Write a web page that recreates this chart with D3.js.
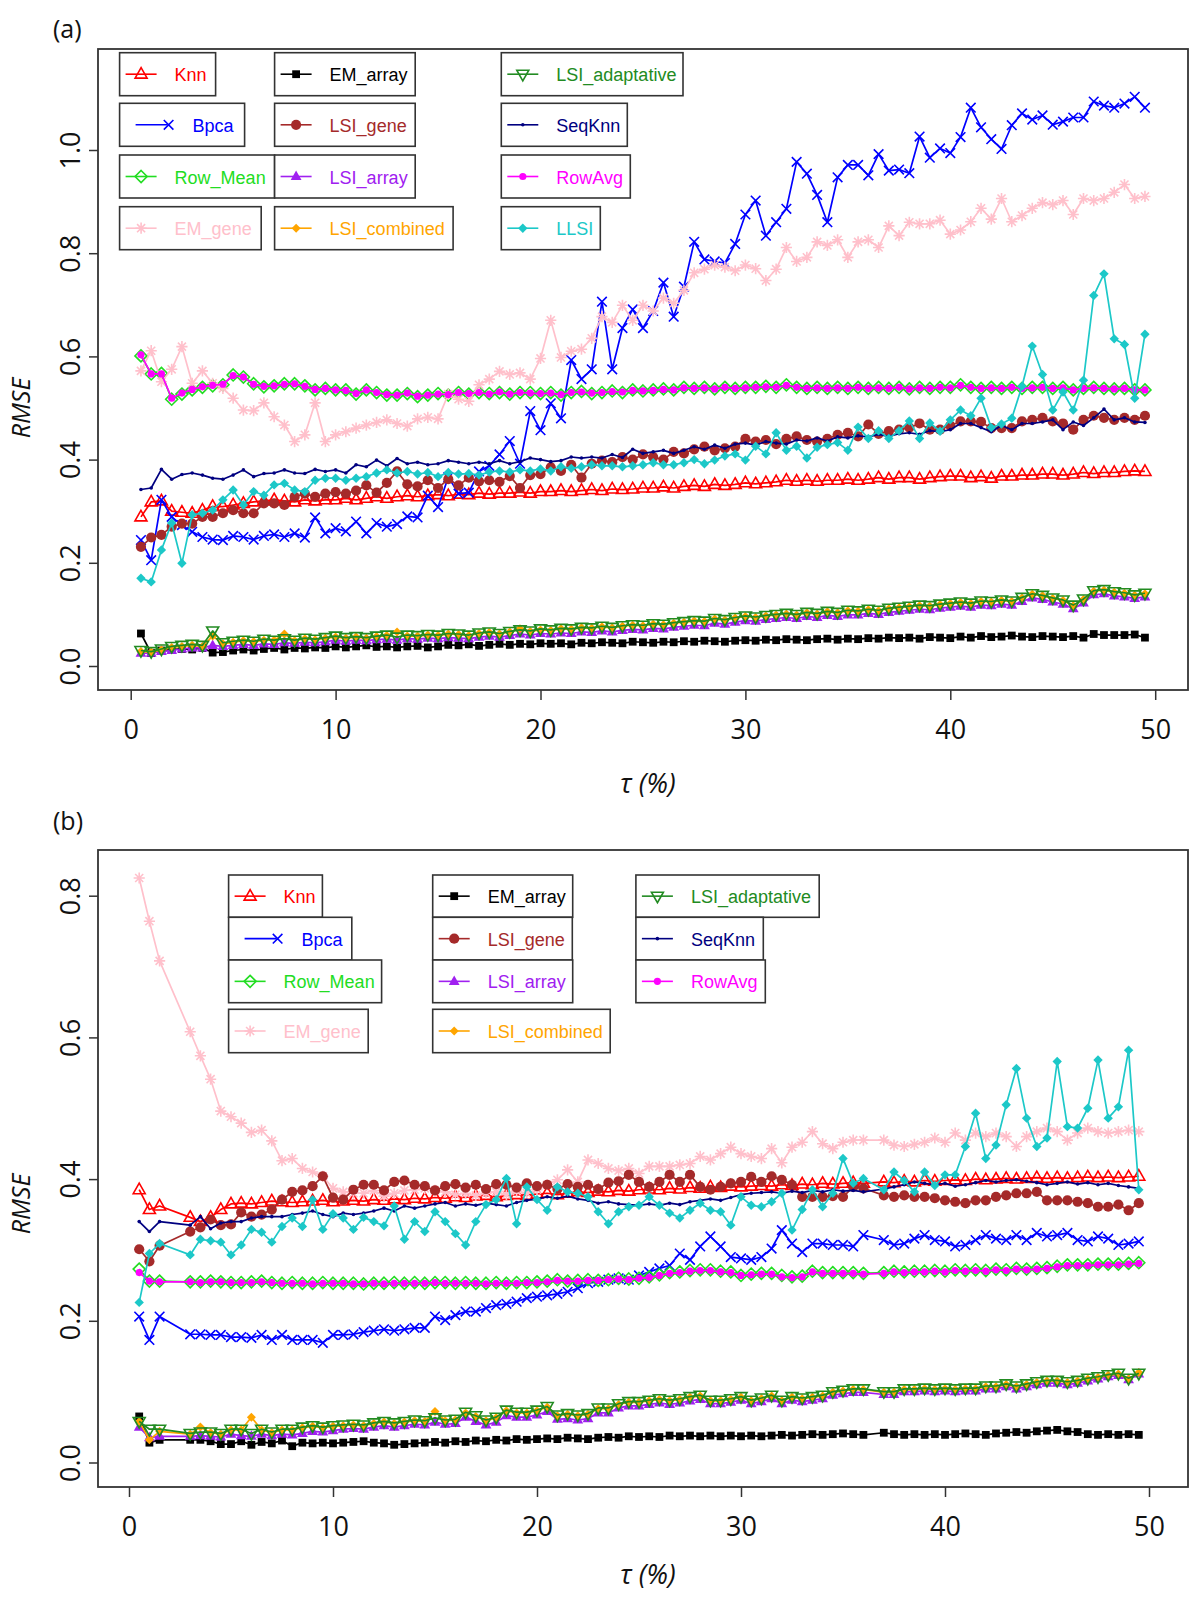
<!DOCTYPE html>
<html><head><meta charset="utf-8">
<script src="https://cdn.jsdelivr.net/npm/d3@7"></script>
<style>body{margin:0;background:#fff} svg{display:block}</style>
</head><body>
<svg id="c" width="1200" height="1602"></svg>
<script>
// ---------- categories (tau %) ----------
const xA = [0.5,1,1.5,2,2.5,3,3.5,4,4.5,5,
5.5,6,6.5,7,7.5,8,8.5,9,9.5,10,
10.5,11,11.5,12,12.5,13,13.5,14,14.5,15,
15.5,16,16.5,17,17.5,18,18.5,19,19.5,20,
20.5,21,21.5,22,22.5,23,23.5,24,24.5,25,
25.5,26,26.5,27,27.5,28,28.5,29,29.5,30,
30.5,31,31.5,32,32.5,33,33.5,34,34.5,35,
35.5,36,36.5,37,37.5,38,38.5,39,39.5,40,
40.5,41,41.5,42,42.5,43,43.5,44,44.5,45,
45.5,46,46.5,47,47.5,48,48.5,49,49.5];
const xB = [0.5,1,1.5,
3,3.5,4,4.5,5,
5.5,6,6.5,7,7.5,8,8.5,9,9.5,10,
10.5,11,11.5,12,12.5,13,13.5,14,14.5,15,
15.5,16,16.5,17,17.5,18,18.5,19,19.5,20,
20.5,21,21.5,22,22.5,23,23.5,24,24.5,25,
25.5,26,26.5,27,27.5,28,28.5,29,29.5,30,
30.5,31,31.5,32,32.5,33,33.5,34,34.5,35,
35.5,36,
37,37.5,38,38.5,39,39.5,40,
40.5,41,41.5,42,42.5,43,43.5,44,44.5,45,
45.5,46,46.5,47,47.5,48,48.5,49,49.5];

const xTicks = [0,10,20,30,40,50];
const yTicksA = [0,0.2,0.4,0.6,0.8,1.0];
const yTicksB = [0,0.2,0.4,0.6,0.8];
const seriesNames = ["Knn","Bpca","Row_Mean","EM_gene","EM_array","LSI_gene","LSI_array","LSI_combined","LSI_adaptative","SeqKnn","RowAvg","LLSI"];

// ---------- panel (a) series ----------
const a_knn = [0.289,0.318,0.320,0.300,0.298,0.296,0.302,0.309,0.309,0.312,
0.315,0.318,0.320,0.322,0.320,0.318,0.322,0.320,0.322,0.322,
0.325,0.322,0.325,0.328,0.325,0.328,0.330,0.328,0.330,0.332,
0.330,0.333,0.332,0.335,0.333,0.335,0.335,0.337,0.335,0.338,
0.338,0.340,0.338,0.340,0.342,0.340,0.343,0.342,0.343,0.345,
0.345,0.347,0.345,0.348,0.350,0.348,0.352,0.350,0.352,0.355,
0.353,0.355,0.357,0.360,0.358,0.360,0.358,0.360,0.360,0.362,
0.360,0.362,0.365,0.362,0.365,0.365,0.362,0.365,0.367,0.368,
0.368,0.365,0.367,0.364,0.368,0.368,0.370,0.370,0.372,0.372,
0.370,0.372,0.375,0.373,0.375,0.375,0.377,0.378,0.377];
const a_bpca = [0.244,0.205,0.322,0.289,0.273,0.260,0.250,0.245,0.244,0.252,
0.250,0.245,0.252,0.255,0.250,0.257,0.249,0.288,0.257,0.267,
0.261,0.280,0.257,0.277,0.270,0.275,0.290,0.288,0.330,0.308,
0.366,0.334,0.336,0.377,0.388,0.410,0.436,0.392,0.494,0.457,
0.509,0.480,0.593,0.556,0.575,0.706,0.575,0.655,0.691,0.655,
0.688,0.743,0.677,0.735,0.822,0.788,0.784,0.781,0.818,0.875,
0.902,0.834,0.860,0.886,0.977,0.954,0.913,0.860,0.947,0.971,
0.971,0.951,0.992,0.960,0.962,0.955,1.026,0.985,1.003,0.994,
1.025,1.082,1.044,1.021,1.002,1.048,1.071,1.059,1.067,1.049,
1.055,1.063,1.063,1.094,1.086,1.082,1.090,1.103,1.082];
const a_rowmean = [0.601,0.566,0.567,0.517,0.527,0.535,0.540,0.543,0.545,0.564,
0.560,0.547,0.541,0.543,0.547,0.547,0.543,0.535,0.538,0.535,
0.535,0.527,0.535,0.530,0.525,0.525,0.528,0.522,0.525,0.528,
0.525,0.530,0.527,0.530,0.528,0.530,0.527,0.530,0.530,0.528,
0.530,0.525,0.530,0.532,0.528,0.530,0.533,0.530,0.535,0.533,
0.535,0.537,0.535,0.540,0.538,0.540,0.537,0.540,0.538,0.540,
0.540,0.542,0.540,0.545,0.540,0.538,0.540,0.538,0.540,0.538,
0.540,0.538,0.540,0.538,0.540,0.537,0.540,0.538,0.540,0.540,
0.545,0.540,0.538,0.540,0.538,0.540,0.538,0.540,0.540,0.538,
0.540,0.535,0.538,0.540,0.538,0.537,0.538,0.535,0.535];
const a_emgene = [0.572,0.611,0.551,0.575,0.619,0.548,0.572,0.548,0.538,0.519,
0.496,0.495,0.510,0.483,0.467,0.435,0.448,0.510,0.435,0.448,
0.454,0.461,0.467,0.472,0.477,0.470,0.465,0.479,0.482,0.479,
0.527,0.517,0.513,0.545,0.556,0.571,0.565,0.568,0.556,0.596,
0.670,0.598,0.610,0.614,0.635,0.677,0.666,0.699,0.670,0.699,
0.688,0.713,0.703,0.728,0.762,0.769,0.777,0.773,0.766,0.777,
0.770,0.747,0.769,0.811,0.784,0.792,0.822,0.815,0.826,0.792,
0.822,0.826,0.811,0.853,0.834,0.860,0.857,0.857,0.864,0.837,
0.845,0.861,0.887,0.866,0.906,0.861,0.873,0.887,0.898,0.894,
0.902,0.875,0.906,0.902,0.906,0.918,0.933,0.906,0.910];
const a_emarray = [0.063,0.025,0.030,0.032,0.033,0.032,0.035,0.026,0.027,0.030,
0.032,0.030,0.033,0.035,0.032,0.035,0.034,0.036,0.035,0.038,
0.036,0.038,0.040,0.037,0.038,0.036,0.038,0.039,0.036,0.038,
0.041,0.040,0.042,0.039,0.041,0.043,0.041,0.043,0.042,0.044,
0.043,0.044,0.042,0.045,0.044,0.046,0.045,0.044,0.047,0.046,
0.045,0.047,0.046,0.048,0.047,0.049,0.048,0.047,0.049,0.050,
0.049,0.051,0.050,0.052,0.051,0.050,0.052,0.053,0.051,0.053,
0.052,0.054,0.053,0.055,0.054,0.055,0.053,0.056,0.055,0.054,
0.057,0.055,0.058,0.056,0.057,0.059,0.057,0.056,0.058,0.057,
0.056,0.058,0.055,0.062,0.060,0.060,0.060,0.061,0.055];
const a_lsigene = [0.231,0.249,0.254,0.270,0.276,0.276,0.289,0.289,0.296,0.302,
0.296,0.296,0.315,0.315,0.312,0.328,0.334,0.328,0.334,0.337,
0.334,0.340,0.350,0.336,0.355,0.377,0.352,0.348,0.360,0.345,
0.362,0.350,0.365,0.358,0.360,0.357,0.368,0.345,0.370,0.372,
0.385,0.378,0.390,0.365,0.392,0.398,0.395,0.405,0.400,0.410,
0.405,0.400,0.415,0.412,0.420,0.425,0.418,0.422,0.425,0.440,
0.435,0.438,0.430,0.440,0.445,0.438,0.435,0.440,0.448,0.452,
0.445,0.468,0.450,0.455,0.458,0.462,0.470,0.458,0.458,0.466,
0.474,0.474,0.473,0.461,0.461,0.461,0.474,0.477,0.481,0.474,
0.470,0.458,0.477,0.485,0.481,0.477,0.481,0.477,0.485];
const a_lsiarray = [0.025,0.025,0.028,0.030,0.033,0.035,0.035,0.040,0.038,0.040,
0.042,0.040,0.043,0.042,0.045,0.044,0.046,0.045,0.047,0.050,
0.048,0.050,0.049,0.051,0.052,0.050,0.053,0.052,0.054,0.053,
0.055,0.054,0.053,0.056,0.058,0.056,0.059,0.062,0.060,0.063,
0.062,0.064,0.063,0.066,0.065,0.068,0.066,0.069,0.071,0.070,
0.073,0.072,0.075,0.077,0.079,0.078,0.083,0.081,0.085,0.088,
0.087,0.090,0.092,0.094,0.092,0.096,0.094,0.098,0.096,0.099,
0.099,0.102,0.100,0.104,0.106,0.108,0.110,0.109,0.112,0.114,
0.116,0.114,0.118,0.117,0.120,0.118,0.125,0.132,0.129,0.124,
0.120,0.111,0.122,0.138,0.140,0.136,0.134,0.131,0.134];
const a_lsicomb = [0.028,0.027,0.031,0.036,0.038,0.040,0.038,0.058,0.043,0.046,
0.049,0.047,0.050,0.050,0.062,0.049,0.053,0.051,0.054,0.056,
0.054,0.056,0.054,0.057,0.059,0.066,0.058,0.058,0.060,0.059,
0.062,0.061,0.059,0.063,0.065,0.062,0.066,0.072,0.067,0.070,
0.069,0.072,0.071,0.074,0.073,0.076,0.074,0.077,0.079,0.078,
0.081,0.080,0.083,0.085,0.087,0.086,0.091,0.089,0.093,0.096,
0.094,0.097,0.099,0.101,0.099,0.103,0.101,0.105,0.103,0.107,
0.106,0.109,0.107,0.111,0.113,0.115,0.117,0.116,0.119,0.121,
0.123,0.121,0.125,0.124,0.127,0.125,0.132,0.139,0.136,0.131,
0.127,0.117,0.129,0.145,0.147,0.143,0.141,0.137,0.140];
const a_lsiadapt = [0.030,0.028,0.033,0.038,0.040,0.042,0.040,0.068,0.045,0.048,
0.050,0.048,0.052,0.050,0.053,0.050,0.054,0.052,0.055,0.058,
0.055,0.057,0.055,0.058,0.060,0.056,0.060,0.059,0.061,0.060,
0.063,0.062,0.060,0.064,0.066,0.063,0.067,0.070,0.068,0.072,
0.070,0.073,0.072,0.075,0.074,0.077,0.075,0.078,0.080,0.079,
0.082,0.081,0.084,0.086,0.088,0.087,0.092,0.090,0.094,0.097,
0.095,0.098,0.100,0.102,0.100,0.104,0.102,0.106,0.104,0.108,
0.107,0.110,0.108,0.112,0.114,0.116,0.118,0.117,0.120,0.122,
0.124,0.122,0.126,0.125,0.128,0.126,0.133,0.140,0.137,0.132,
0.128,0.118,0.130,0.146,0.148,0.144,0.142,0.138,0.141];
const a_seqknn = [0.342,0.345,0.381,0.362,0.371,0.374,0.370,0.364,0.362,0.370,
0.380,0.367,0.373,0.374,0.380,0.374,0.373,0.381,0.377,0.380,
0.374,0.390,0.386,0.399,0.388,0.402,0.392,0.395,0.390,0.392,
0.398,0.395,0.392,0.395,0.392,0.398,0.392,0.396,0.403,0.400,
0.396,0.398,0.405,0.403,0.405,0.403,0.410,0.404,0.420,0.412,
0.415,0.418,0.412,0.418,0.425,0.420,0.428,0.422,0.430,0.432,
0.428,0.435,0.432,0.430,0.438,0.436,0.442,0.436,0.444,0.442,
0.446,0.444,0.449,0.445,0.450,0.452,0.449,0.456,0.454,0.458,
0.470,0.470,0.462,0.454,0.466,0.458,0.470,0.470,0.473,0.477,
0.458,0.473,0.466,0.481,0.498,0.477,0.481,0.473,0.472];
const a_rowavg = [0.603,0.566,0.566,0.519,0.529,0.536,0.541,0.544,0.546,0.563,
0.560,0.546,0.542,0.543,0.546,0.547,0.542,0.536,0.538,0.535,
0.534,0.528,0.535,0.530,0.526,0.525,0.529,0.523,0.525,0.527,
0.526,0.530,0.528,0.530,0.527,0.531,0.527,0.530,0.529,0.528,
0.529,0.526,0.530,0.531,0.529,0.530,0.532,0.531,0.534,0.533,
0.534,0.536,0.535,0.539,0.538,0.539,0.537,0.540,0.538,0.539,
0.540,0.541,0.540,0.544,0.540,0.538,0.539,0.538,0.539,0.538,
0.540,0.538,0.539,0.538,0.540,0.537,0.539,0.538,0.540,0.539,
0.544,0.540,0.538,0.539,0.538,0.540,0.538,0.539,0.540,0.538,
0.539,0.535,0.538,0.539,0.538,0.537,0.538,0.535,0.535];
const a_llsi = [0.170,0.163,0.225,0.277,0.199,0.293,0.296,0.302,0.322,0.341,
0.312,0.338,0.331,0.351,0.354,0.341,0.338,0.360,0.364,0.364,
0.360,0.364,0.367,0.374,0.380,0.374,0.377,0.372,0.375,0.367,
0.375,0.372,0.373,0.370,0.376,0.378,0.376,0.380,0.378,0.382,
0.378,0.386,0.383,0.386,0.390,0.388,0.388,0.386,0.388,0.390,
0.394,0.390,0.390,0.394,0.400,0.392,0.399,0.407,0.411,0.399,
0.426,0.411,0.452,0.418,0.426,0.403,0.424,0.429,0.433,0.418,
0.463,0.441,0.456,0.441,0.456,0.475,0.441,0.471,0.455,0.477,
0.496,0.485,0.519,0.462,0.469,0.480,0.542,0.620,0.565,0.496,
0.531,0.496,0.554,0.718,0.760,0.634,0.623,0.519,0.643];

// ---------- panel (b) series ----------
const b_knn = [0.385,0.357,0.362,
0.346,0.340,0.346,0.357,0.365,
0.366,0.365,0.367,0.369,0.368,0.367,0.368,0.369,0.370,0.368,
0.369,0.370,0.369,0.371,0.370,0.372,0.371,0.373,0.372,0.374,
0.373,0.375,0.374,0.376,0.377,0.375,0.377,0.378,0.377,0.379,
0.380,0.378,0.380,0.382,0.381,0.383,0.382,0.384,0.383,0.385,
0.386,0.385,0.387,0.386,0.388,0.387,0.389,0.388,0.390,0.389,
0.390,0.391,0.390,0.392,0.391,0.393,0.392,0.394,0.393,0.394,
0.395,0.394,
0.396,0.395,0.397,0.396,0.398,0.397,0.398,
0.399,0.398,0.400,0.399,0.400,0.401,0.400,0.401,0.402,0.401,
0.402,0.401,0.402,0.403,0.402,0.403,0.402,0.403,0.404];
const b_bpca = [0.206,0.173,0.206,
0.181,0.181,0.180,0.180,0.177,
0.177,0.176,0.180,0.173,0.180,0.173,0.173,0.173,0.169,0.180,
0.180,0.181,0.184,0.186,0.188,0.186,0.188,0.190,0.190,0.206,
0.201,0.208,0.213,0.213,0.218,0.222,0.224,0.227,0.232,0.234,
0.236,0.238,0.241,0.246,0.253,0.255,0.258,0.260,0.258,0.264,
0.269,0.274,0.278,0.295,0.286,0.305,0.319,0.305,0.290,0.288,
0.286,0.290,0.302,0.328,0.309,0.297,0.309,0.309,0.307,0.307,
0.305,0.321,
0.314,0.307,0.309,0.316,0.321,0.314,0.312,
0.305,0.307,0.314,0.321,0.316,0.314,0.321,0.314,0.324,0.319,
0.321,0.324,0.314,0.312,0.319,0.316,0.307,0.309,0.312];
const b_rowmean = [0.273,0.256,0.256,
0.255,0.255,0.256,0.255,0.254,
0.254,0.255,0.256,0.254,0.253,0.254,0.253,0.253,0.254,0.253,
0.253,0.253,0.252,0.253,0.253,0.254,0.253,0.254,0.253,0.254,
0.254,0.253,0.254,0.253,0.253,0.254,0.253,0.254,0.254,0.255,
0.256,0.258,0.256,0.257,0.258,0.257,0.258,0.260,0.259,0.260,
0.262,0.265,0.268,0.269,0.271,0.272,0.272,0.270,0.269,0.264,
0.266,0.267,0.267,0.264,0.262,0.263,0.270,0.268,0.268,0.268,
0.268,0.267,
0.268,0.270,0.269,0.270,0.270,0.271,0.270,
0.272,0.271,0.272,0.271,0.273,0.272,0.274,0.273,0.274,0.275,
0.277,0.279,0.279,0.279,0.280,0.280,0.280,0.281,0.282];
const b_emgene = [0.825,0.764,0.708,
0.608,0.574,0.541,0.496,0.488,
0.479,0.466,0.469,0.454,0.426,0.429,0.415,0.410,0.404,0.387,
0.382,0.380,0.380,0.384,0.376,0.380,0.384,0.385,0.387,0.384,
0.382,0.378,0.380,0.377,0.380,0.382,0.378,0.383,0.380,0.385,
0.392,0.399,0.413,0.396,0.427,0.422,0.415,0.412,0.415,0.408,
0.418,0.418,0.418,0.420,0.422,0.432,0.427,0.436,0.445,0.436,
0.432,0.429,0.443,0.423,0.445,0.452,0.467,0.450,0.443,0.452,
0.455,0.455,
0.455,0.448,0.446,0.449,0.452,0.458,0.452,
0.465,0.455,0.465,0.460,0.465,0.460,0.446,0.460,0.467,0.472,
0.467,0.455,0.465,0.472,0.467,0.465,0.467,0.469,0.467];
const b_emarray = [0.065,0.028,0.032,
0.032,0.032,0.030,0.026,0.026,
0.030,0.025,0.029,0.027,0.031,0.023,0.028,0.027,0.028,0.027,
0.028,0.029,0.030,0.028,0.027,0.025,0.026,0.027,0.028,0.029,
0.028,0.030,0.029,0.031,0.030,0.032,0.031,0.033,0.032,0.033,
0.034,0.033,0.035,0.034,0.033,0.035,0.036,0.035,0.037,0.036,
0.037,0.036,0.038,0.037,0.038,0.037,0.038,0.037,0.038,0.037,
0.038,0.037,0.038,0.039,0.038,0.039,0.040,0.039,0.040,0.041,
0.040,0.039,
0.042,0.040,0.039,0.040,0.039,0.040,0.039,
0.040,0.041,0.040,0.039,0.041,0.042,0.043,0.042,0.044,0.045,
0.046,0.044,0.043,0.040,0.039,0.040,0.039,0.040,0.039];
const b_lsigene = [0.301,0.284,0.306,
0.326,0.332,0.343,0.335,0.336,
0.353,0.347,0.350,0.357,0.371,0.382,0.384,0.390,0.404,0.374,
0.371,0.385,0.392,0.392,0.384,0.396,0.398,0.392,0.390,0.384,
0.390,0.393,0.388,0.392,0.386,0.393,0.392,0.388,0.394,0.390,
0.392,0.386,0.393,0.389,0.392,0.386,0.395,0.397,0.406,0.396,
0.389,0.396,0.406,0.396,0.406,0.389,0.385,0.389,0.394,0.396,
0.403,0.396,0.404,0.399,0.392,0.375,0.375,0.375,0.376,0.375,
0.389,0.387,
0.377,0.375,0.377,0.375,0.375,0.373,0.370,
0.368,0.366,0.370,0.370,0.375,0.377,0.380,0.380,0.382,0.370,
0.370,0.370,0.368,0.366,0.361,0.361,0.364,0.356,0.366];
const b_lsiarray = [0.050,0.035,0.037,
0.037,0.038,0.037,0.036,0.040,
0.038,0.037,0.040,0.038,0.040,0.039,0.041,0.044,0.043,0.045,
0.047,0.048,0.047,0.050,0.052,0.050,0.052,0.054,0.053,0.057,
0.054,0.055,0.064,0.058,0.053,0.057,0.066,0.064,0.064,0.067,
0.072,0.061,0.062,0.060,0.062,0.070,0.070,0.077,0.080,0.080,
0.082,0.084,0.082,0.084,0.087,0.089,0.083,0.083,0.085,0.088,
0.083,0.086,0.090,0.083,0.088,0.086,0.088,0.090,0.095,0.097,
0.099,0.099,
0.096,0.096,0.100,0.100,0.101,0.100,0.101,
0.100,0.101,0.101,0.104,0.104,0.107,0.104,0.107,0.110,0.112,
0.112,0.110,0.112,0.115,0.118,0.121,0.123,0.117,0.125];
const b_lsicomb = [0.058,0.032,0.044,
0.040,0.050,0.042,0.040,0.046,
0.046,0.064,0.046,0.042,0.046,0.046,0.049,0.051,0.049,0.051,
0.052,0.053,0.052,0.055,0.057,0.055,0.057,0.059,0.058,0.072,
0.059,0.060,0.070,0.065,0.059,0.063,0.073,0.070,0.070,0.073,
0.078,0.066,0.068,0.066,0.068,0.076,0.076,0.082,0.085,0.085,
0.087,0.089,0.087,0.089,0.092,0.094,0.087,0.087,0.089,0.092,
0.087,0.090,0.094,0.087,0.092,0.090,0.092,0.094,0.099,0.101,
0.103,0.103,
0.099,0.099,0.103,0.103,0.104,0.103,0.104,
0.103,0.104,0.104,0.107,0.107,0.110,0.107,0.110,0.113,0.115,
0.115,0.113,0.115,0.118,0.120,0.123,0.125,0.118,0.127];
const b_lsiadapt = [0.058,0.047,0.047,
0.041,0.043,0.043,0.041,0.047,
0.047,0.041,0.047,0.043,0.047,0.047,0.050,0.052,0.050,0.052,
0.053,0.054,0.053,0.056,0.058,0.056,0.058,0.060,0.059,0.063,
0.060,0.061,0.071,0.066,0.060,0.064,0.074,0.071,0.071,0.074,
0.079,0.067,0.069,0.067,0.069,0.077,0.077,0.083,0.086,0.086,
0.088,0.090,0.088,0.090,0.093,0.095,0.088,0.088,0.090,0.093,
0.088,0.091,0.095,0.088,0.093,0.091,0.093,0.095,0.100,0.102,
0.104,0.104,
0.100,0.100,0.104,0.104,0.105,0.104,0.105,
0.104,0.105,0.105,0.108,0.108,0.111,0.108,0.111,0.114,0.116,
0.116,0.114,0.116,0.119,0.121,0.124,0.126,0.119,0.126];
const b_seqknn = [0.340,0.326,0.340,
0.335,0.347,0.330,0.338,0.340,
0.340,0.345,0.347,0.347,0.347,0.350,0.352,0.355,0.350,0.347,
0.352,0.350,0.352,0.355,0.359,0.355,0.362,0.359,0.362,0.365,
0.367,0.362,0.365,0.363,0.366,0.364,0.362,0.367,0.370,0.372,
0.375,0.373,0.376,0.372,0.370,0.366,0.368,0.365,0.364,0.363,
0.365,0.363,0.366,0.364,0.368,0.370,0.372,0.370,0.374,0.378,
0.380,0.381,0.382,0.380,0.383,0.381,0.384,0.382,0.385,0.383,
0.384,0.382,
0.386,0.389,0.392,0.396,0.394,0.392,0.394,
0.390,0.392,0.395,0.398,0.396,0.398,0.399,0.397,0.395,0.392,
0.394,0.396,0.393,0.395,0.392,0.394,0.391,0.389,0.387];
const b_rowavg = [0.268,0.256,0.255,
0.255,0.254,0.255,0.255,0.254,
0.254,0.254,0.255,0.254,0.253,0.253,0.253,0.252,0.253,0.253,
0.253,0.252,0.252,0.253,0.252,0.253,0.253,0.253,0.253,0.254,
0.253,0.253,0.253,0.253,0.252,0.253,0.253,0.253,0.254,0.254,
0.255,0.257,0.256,0.256,0.257,0.257,0.258,0.259,0.258,0.260,
0.261,0.264,0.267,0.268,0.270,0.271,0.271,0.269,0.268,0.264,
0.265,0.266,0.266,0.262,0.261,0.262,0.269,0.267,0.267,0.267,
0.267,0.266,
0.267,0.269,0.268,0.269,0.269,0.270,0.269,
0.271,0.270,0.271,0.270,0.272,0.271,0.273,0.272,0.273,0.274,
0.276,0.278,0.278,0.278,0.279,0.279,0.279,0.280,0.281];
const b_llsi = [0.226,0.295,0.309,
0.293,0.315,0.313,0.311,0.293,
0.307,0.329,0.325,0.311,0.333,0.345,0.333,0.371,0.329,0.351,
0.345,0.329,0.346,0.340,0.334,0.362,0.315,0.340,0.326,0.354,
0.340,0.323,0.307,0.340,0.364,0.371,0.401,0.337,0.389,0.371,
0.356,0.389,0.382,0.380,0.375,0.354,0.337,0.354,0.361,0.363,
0.375,0.363,0.352,0.345,0.356,0.366,0.356,0.354,0.335,0.375,
0.363,0.361,0.368,0.380,0.328,0.357,0.385,0.361,0.380,0.429,
0.394,0.401,
0.385,0.410,0.398,0.382,0.410,0.391,0.406,
0.406,0.446,0.493,0.429,0.448,0.505,0.556,0.486,0.446,0.458,
0.566,0.474,0.472,0.500,0.568,0.486,0.502,0.582,0.385];

// ---------- styles (separate from data) ----------
const styles = {
  Knn:{c:"#ff0000", m:"triUp", s:6.0, fill:false},
  Bpca:{c:"#0000ff", m:"times", s:4.8, fill:false},
  Row_Mean:{c:"#22dd22", m:"diamond", s:6.0, fill:false},
  EM_gene:{c:"#ffc0cb", m:"asterisk", s:5.6, fill:false},
  EM_array:{c:"#000000", m:"square", s:3.9, fill:true},
  LSI_gene:{c:"#a52a2a", m:"circle", s:5.1, fill:true},
  LSI_array:{c:"#a020f0", m:"triUp", s:5.4, fill:true},
  LSI_combined:{c:"#ffa500", m:"diamond", s:4.5, fill:true},
  LSI_adaptative:{c:"#228b22", m:"triDown", s:6.0, fill:false},
  SeqKnn:{c:"#000080", m:"circle", s:1.8, fill:true},
  RowAvg:{c:"#ff00ff", m:"circle", s:3.6, fill:true},
  LLSI:{c:"#1cc8c8", m:"diamond", s:4.7, fill:true}
};

const svg = d3.select("#c");
const AX_FONT = "'Open Sans', 'DejaVu Sans', sans-serif";
const LG_FONT = "'Liberation Sans', Arial, sans-serif";

function markerPath(m, s){
  switch(m){
    case "triUp": return `M0,${-s*1.1}L${s},${s*0.66}L${-s},${s*0.66}Z`;
    case "triDown": return `M0,${s*1.1}L${s},${-s*0.66}L${-s},${-s*0.66}Z`;
    case "times": return `M${-s},${-s}L${s},${s}M${-s},${s}L${s},${-s}`;
    case "diamond": return `M0,${-s}L${s},0L0,${s}L${-s},0Z`;
    case "asterisk": { const t = s*0.72; return `M${-t},${-t}L${t},${t}M${-t},${t}L${t},${-t}M0,${-s}L0,${s}M${-s},0L${s},0`; }
    case "square": return `M${-s},${-s}H${s}V${s}H${-s}Z`;
  }
  return "";
}
function drawMarker(g, st, cx, cy){
  let el;
  if (st.m === "circle") el = g.append("circle").attr("cx", cx).attr("cy", cy).attr("r", st.s);
  else el = g.append("path").attr("d", markerPath(st.m, st.s)).attr("transform", `translate(${cx},${cy})`);
  if (st.fill) el.attr("fill", st.c).attr("stroke", "none");
  else el.attr("fill", "none").attr("stroke", st.c).attr("stroke-width", 1.6);
}

function drawPanel(cfg){
  const g = svg.append("g");
  const x = d3.scaleLinear().domain([0, 50]).range(cfg.xr);
  const y = d3.scaleLinear().domain([0, 1]).range(cfg.yr);
  const line = d3.line().x(d => x(d[0])).y(d => y(d[1]));

  seriesNames.forEach(name => {
    const vals = cfg.data[name];
    if (!vals) return;
    if (vals.length !== cfg.xs.length) throw new Error(cfg.label + " " + name + " length " + vals.length + " vs " + cfg.xs.length);
    const st = styles[name];
    const pts = cfg.xs.map((xv, i) => [xv, vals[i]]);
    const sg = g.append("g");
    sg.append("path").attr("d", line(pts)).attr("fill", "none")
      .attr("stroke", st.c).attr("stroke-width", 1.7).attr("stroke-linejoin", "round");
    pts.forEach(p => drawMarker(sg, st, x(p[0]), y(p[1])));
  });

  // frame
  const b = cfg.box;
  g.append("rect").attr("x", b.x0).attr("y", b.y0).attr("width", b.x1 - b.x0).attr("height", b.y1 - b.y0)
    .attr("fill", "none").attr("stroke", "#333").attr("stroke-width", 1.8);

  // x axis
  const xa = g.append("g").attr("transform", `translate(0,${b.y1})`)
    .call(d3.axisBottom(x).tickValues(xTicks).tickSize(10).tickPadding(20).tickFormat(d3.format("d")));
  xa.select(".domain").remove();
  xa.selectAll("line").attr("stroke", "#333").attr("stroke-width", 1.5);
  xa.selectAll("text").attr("font-family", AX_FONT).attr("font-size", 27).attr("fill", "#111");

  // y axis
  const ya = g.append("g").attr("transform", `translate(${b.x0},0)`)
    .call(d3.axisLeft(y).tickValues(cfg.yTicks).tickSize(9).tickFormat(d3.format(".1f")));
  ya.select(".domain").remove();
  ya.selectAll("line").attr("stroke", "#333").attr("stroke-width", 1.5);
  ya.selectAll("text").attr("x", null).attr("dy", null)
    .attr("transform", "translate(-29,0) rotate(-90)")
    .attr("text-anchor", "middle").attr("dominant-baseline", "central")
    .attr("font-family", AX_FONT).attr("font-size", 27).attr("fill", "#111");

  // labels
  g.append("text").attr("x", cfg.tag[0]).attr("y", cfg.tag[1]).attr("dominant-baseline", "central")
    .attr("font-family", AX_FONT).attr("font-size", 25).attr("fill", "#111").text(cfg.label);
  g.append("text").attr("transform", `translate(${cfg.ylab[0]},${cfg.ylab[1]}) rotate(-90)`)
    .attr("text-anchor", "middle").attr("dominant-baseline", "central")
    .attr("font-family", AX_FONT).attr("font-style", "italic").attr("font-size", 25).attr("fill", "#111").text("RMSE");
  g.append("text").attr("x", cfg.xlab[0]).attr("y", cfg.xlab[1]).attr("text-anchor", "middle")
    .attr("dominant-baseline", "central")
    .attr("font-family", AX_FONT).attr("font-style", "italic").attr("font-size", 27).attr("fill", "#111").text("\u03c4 (%)");

  // legend
  const lg = g.append("g");
  cfg.legend.forEach(L => {
    const st = styles[L.name];
    const cy = L.y + L.h / 2;
    lg.append("rect").attr("x", L.x).attr("y", L.y).attr("width", L.w).attr("height", L.h)
      .attr("fill", "#fff").attr("stroke", "#333").attr("stroke-width", 1.6);
    const l0 = L.name === "Bpca" ? 16 : 6, l1 = L.name === "Bpca" ? 48 : 37;
    const mx = L.name === "Bpca" ? 49 : 21.5;
    const tx = L.name === "Bpca" ? 73 : 55;
    lg.append("line").attr("x1", L.x + l0).attr("x2", L.x + l1).attr("y1", cy).attr("y2", cy)
      .attr("stroke", st.c).attr("stroke-width", 1.6);
    drawMarker(lg, st, L.x + mx, cy);
    lg.append("text").attr("x", L.x + tx).attr("y", cy + 1).attr("dominant-baseline", "central")
      .attr("font-family", LG_FONT).attr("font-size", 18).attr("fill", st.c).text(L.name);
  });
}

// ---------- layout ----------
const legendA = [
  {name:"Knn", x:119.6, y:52.7, w:96, h:43},
  {name:"Bpca", x:119.6, y:103.3, w:125, h:43},
  {name:"Row_Mean", x:119.6, y:155, w:155, h:43},
  {name:"EM_gene", x:119.6, y:206.7, w:141.6, h:43},
  {name:"EM_array", x:274.6, y:52.7, w:140.6, h:43},
  {name:"LSI_gene", x:274.6, y:103.3, w:140.6, h:43},
  {name:"LSI_array", x:274.6, y:155, w:140.6, h:43},
  {name:"LSI_combined", x:274.6, y:206.7, w:178.5, h:43},
  {name:"LSI_adaptative", x:501.3, y:52.7, w:181.7, h:43},
  {name:"SeqKnn", x:501.3, y:103.3, w:126, h:43},
  {name:"RowAvg", x:501.3, y:155, w:129, h:43},
  {name:"LLSI", x:501.3, y:206.7, w:99, h:43}
];
const legendB = [
  {name:"Knn", x:228.6, y:875, w:93.8, h:42.3},
  {name:"Bpca", x:228.6, y:917.3, w:123.2, h:42.7},
  {name:"Row_Mean", x:228.6, y:960, w:153, h:42.7},
  {name:"EM_gene", x:228.6, y:1009.3, w:139.6, h:43.4},
  {name:"EM_array", x:432.7, y:875, w:140, h:42.3},
  {name:"LSI_gene", x:432.7, y:917.3, w:139.6, h:42.7},
  {name:"LSI_array", x:432.7, y:960, w:140, h:42.7},
  {name:"LSI_combined", x:432.7, y:1009.3, w:177.5, h:43.4},
  {name:"LSI_adaptative", x:635.9, y:875, w:183.3, h:42.3},
  {name:"SeqKnn", x:635.9, y:917.3, w:127.4, h:42.7},
  {name:"RowAvg", x:635.9, y:960, w:129.4, h:42.7}
];

drawPanel({
  label:"(a)", tag:[53, 28], ylab:[20, 408], xlab:[648, 782],
  xs:xA, xr:[130.7, 1155.2], yr:[666, 150], yTicks:yTicksA,
  box:{x0:98, x1:1188, y0:49, y1:690},
  data:{Knn:a_knn, Bpca:a_bpca, Row_Mean:a_rowmean, EM_gene:a_emgene, EM_array:a_emarray,
        LSI_gene:a_lsigene, LSI_array:a_lsiarray, LSI_combined:a_lsicomb, LSI_adaptative:a_lsiadapt,
        SeqKnn:a_seqknn, RowAvg:a_rowavg, LLSI:a_llsi},
  legend:legendA
});
drawPanel({
  label:"(b)", tag:[53, 820], ylab:[20, 1204], xlab:[648, 1573],
  xs:xB, xr:[129, 1149], yr:[1462.5, 754], yTicks:yTicksB,
  box:{x0:98, x1:1188, y0:850, y1:1487},
  data:{Knn:b_knn, Bpca:b_bpca, Row_Mean:b_rowmean, EM_gene:b_emgene, EM_array:b_emarray,
        LSI_gene:b_lsigene, LSI_array:b_lsiarray, LSI_combined:b_lsicomb, LSI_adaptative:b_lsiadapt,
        SeqKnn:b_seqknn, RowAvg:b_rowavg, LLSI:b_llsi},
  legend:legendB
});
</script>
</body></html>
